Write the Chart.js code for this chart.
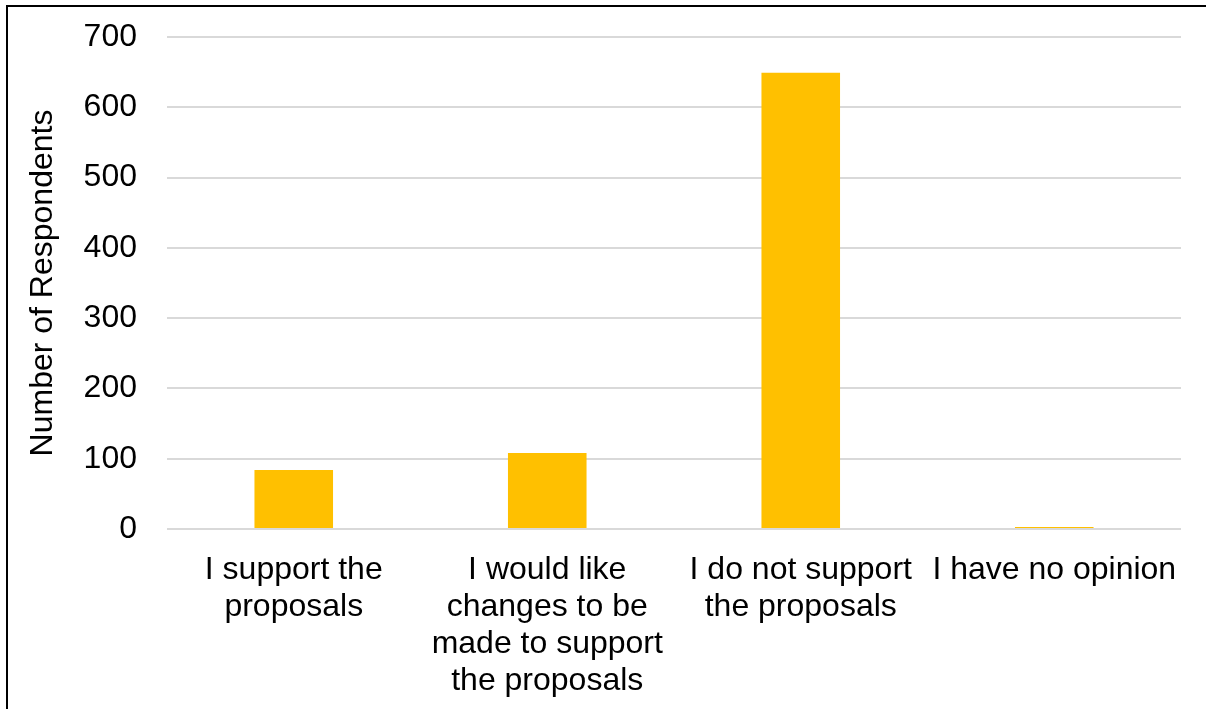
<!DOCTYPE html>
<html>
<head>
<meta charset="utf-8">
<script src="https://cdn.jsdelivr.net/npm/chart.js@4"></script>
<style>
  html, body { margin: 0; padding: 0; background: #fff; overflow: hidden; }
  #wrap { position: absolute; left: 0; top: 0; width: 1206px; height: 709px; }
  #frame { position: absolute; left: 6px; top: 5px; width: 1400px; height: 900px; border: 2px solid #000; box-sizing: border-box; pointer-events: none; }
</style>
</head>
<body>
<div id="wrap"><canvas id="c" width="1206" height="709"></canvas></div>
<div id="frame"></div>
<script>
const categories = [
  ["I support the", "proposals"],
  ["I would like", "changes to be", "made to support", "the proposals"],
  ["I do not support", "the proposals"],
  ["I have no opinion"]
];
const respondents = [84, 108, 649, 3];
const yTicks = [0, 100, 200, 300, 400, 500, 600, 700];
const yTitle = "Number of Respondents";

const font = { family: "'Liberation Sans', Arial, sans-serif", size: 32 };

new Chart(document.getElementById('c'), {
  type: 'bar',
  data: {
    labels: categories,
    datasets: [{
      data: respondents,
      backgroundColor: '#FFC000',
      borderWidth: 0,
      categoryPercentage: 1.0,
      barPercentage: 0.31
    }]
  },
  options: {
    responsive: false,
    animation: false,
    devicePixelRatio: 1,
    layout: { padding: { left: 0, top: 37, right: 25, bottom: 0 } },
    plugins: { legend: { display: false }, tooltip: { enabled: false } },
    scales: {
      x: {
        grid: { display: false, drawTicks: false },
        border: { display: false },
        ticks: { color: '#000', font: { ...font, lineHeight: 1.15 }, padding: 23, maxRotation: 0, autoSkip: false },
        afterFit: s => { s.height = 180; s.paddingLeft = 0; s.paddingRight = 0; s.paddingTop = 0; s.paddingBottom = 0; }
      },
      y: {
        min: 0, max: 700,
        afterBuildTicks: s => { s.ticks = yTicks.map(v => ({ value: v })); },
        grid: { color: '#d9d9d9', lineWidth: 2, drawTicks: false },
        border: { display: false },
        ticks: { color: '#000', font: font, padding: 30 },
        title: { display: true, text: yTitle, color: '#000', font: { ...font, lineHeight: 1.2 }, padding: { top: 24, bottom: 0 } },
        afterFit: s => { s.width = 167; s.paddingTop = 0; s.paddingBottom = 0; s.paddingLeft = 0; s.paddingRight = 0; }
      }
    }
  }
});
</script>
</body>
</html>
